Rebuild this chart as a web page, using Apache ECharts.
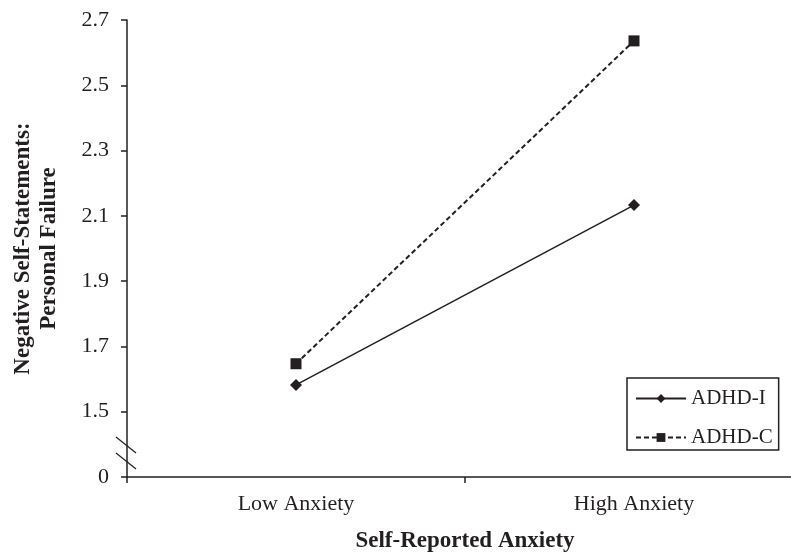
<!DOCTYPE html>
<html>
<head>
<meta charset="utf-8">
<script src="https://cdn.jsdelivr.net/npm/echarts@6/dist/echarts.min.js"></script>
<style>
  html, body { margin: 0; padding: 0; background: #fff; }
  #chart { width: 791px; height: 553px; }
</style>
</head>
<body>
<div id="chart"></div>
<script>
  // data
  const categories = ["Low Anxiety", "High Anxiety"];
  const adhdI = [1.582, 2.133];
  const adhdC = [1.647, 2.636];
  // y axis: bottom tick stands for 0 (broken axis), the rest are real values
  const yMin = 1.3;
  const yMax = 2.7;
  const yStep = 0.2;

  const ink = "#231f20";
  const serif = "'Liberation Serif', 'Times New Roman', serif";

  let chart = echarts.init(document.getElementById("chart"));

  let option = {
    backgroundColor: "#fff",
    animation: false,
    textStyle: { fontFamily: serif, color: ink },
    grid: {
      left: 127,
      top: 20,
      width: 676,
      height: 457,
      outerBoundsMode: "none"
    },
    legend: {
      orient: "vertical",
      left: 627,
      top: 378,
      padding: [10, 6, 2, 8],
      itemWidth: 50,
      itemHeight: 11,
      itemGap: 18,
      borderColor: ink,
      borderWidth: 1.5,
      textStyle: { fontFamily: serif, fontSize: 21, color: ink },
      data: ["ADHD-I", "ADHD-C"]
    },
    xAxis: {
      type: "category",
      data: categories,
      boundaryGap: true,
      name: "Self-Reported Anxiety",
      nameLocation: "middle",
      nameGap: 53,
      nameTextStyle: { fontFamily: serif, fontSize: 23, fontWeight: "bold", color: ink },
      axisLine: { lineStyle: { color: ink, width: 1.5 } },
      axisTick: { show: true, length: 6, lineStyle: { color: ink, width: 1.5 } },
      axisLabel: { fontFamily: serif, fontSize: 22, color: ink, margin: 16 },
      splitLine: { show: false }
    },
    yAxis: {
      type: "value",
      min: yMin,
      max: yMax,
      interval: yStep,
      name: "Negative Self-Statements:\nPersonal Failure",
      nameLocation: "middle",
      nameRotate: 90,
      nameGap: 65,
      nameTextStyle: { fontFamily: serif, fontSize: 23, fontWeight: "bold", color: ink, lineHeight: 26 },
      axisLine: { show: true, lineStyle: { color: ink, width: 1.5 } },
      axisTick: { show: true, length: 6, lineStyle: { color: ink, width: 1.5 } },
      axisLabel: {
        fontFamily: serif,
        fontSize: 22,
        color: ink,
        margin: 18,
        formatter: function (v) {
          if (Math.abs(v - yMin) < 1e-6) return "0";
          return v.toFixed(1);
        }
      },
      splitLine: { show: false }
    },
    series: [
      {
        name: "ADHD-I",
        type: "line",
        data: adhdI,
        symbol: "diamond",
        symbolSize: 12,
        itemStyle: { color: ink },
        lineStyle: { color: ink, width: 1.5, type: "solid" }
      },
      {
        name: "ADHD-C",
        type: "line",
        data: adhdC,
        symbol: "rect",
        symbolSize: 11,
        itemStyle: { color: ink },
        lineStyle: { color: ink, width: 2, type: [5, 3] }
      }
    ]
  };

  chart.setOption(option);

  // axis break marks: two slashes across the y axis below 1.5
  const breakVals = [1.398, 1.349];
  let marks = breakVals.map(function (v) {
    let p = chart.convertToPixel({ gridIndex: 0 }, [0, v]);
    let ax = chart.convertToPixel({ xAxisIndex: 0 }, 0) - 169;
    return {
      type: "line",
      shape: { x1: ax - 11, y1: p[1] - 8, x2: ax + 9, y2: p[1] + 8 },
      style: { stroke: ink, lineWidth: 1.3 }
    };
  });
  chart.setOption({ graphic: marks });
</script>
</body>
</html>
